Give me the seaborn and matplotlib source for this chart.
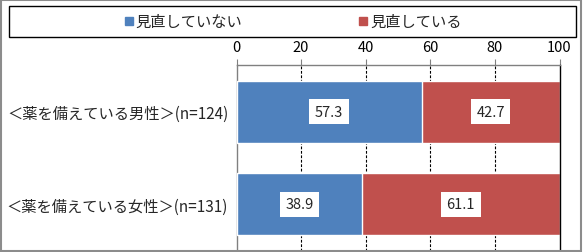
import matplotlib
matplotlib.use("Agg")
import matplotlib.pyplot as plt
import seaborn as sns
import pandas as pd
import numpy as np
from matplotlib.lines import Line2D
from matplotlib.patches import Rectangle

categories = ["＜薬を備えている男性＞(n=124)", "＜薬を備えている女性＞(n=131)"]
not_reviewed = [57.3, 38.9]
reviewed = [42.7, 61.1]
series_names = ["見直していない", "見直している"]
xticks = [0, 20, 40, 60, 80, 100]

BLUE = "#4F81BD"
RED = "#C0504D"

sns.set_theme(style="white")
plt.rcParams["font.family"] = ["Noto Sans CJK JP", "DejaVu Sans"]

df = pd.DataFrame({"cat": categories, "a": not_reviewed, "b": reviewed})
df["total"] = df["a"] + df["b"]

W, H = 584, 253
fig = plt.figure(figsize=(W / 100, H / 100), dpi=100)
ax = fig.add_axes([236.5 / W, 1 - 251.7 / H, (559.5 - 236.5) / W, (251.7 - 66.3) / H])

sns.barplot(data=df, x="total", y="cat", color=RED, saturation=1, width=0.67, ax=ax, zorder=2)
sns.barplot(data=df, x="a", y="cat", color=BLUE, saturation=1, width=0.67, ax=ax, zorder=3)

ax.set_xlim(0, 100)
ax.set_ylim(1.5, -0.5)
ax.set_xlabel("")
ax.set_ylabel("")
ax.xaxis.tick_top()
ax.set_xticks(xticks)
ax.set_xticklabels([str(t) for t in xticks], fontsize=10.5)
ax.tick_params(axis="x", which="major", direction="out", length=4, width=0.8,
               color="#808080", pad=4, colors="black")
ax.tick_params(axis="x", colors="black", color="#808080")
ax.set_yticks([0, 1])
ax.set_yticklabels(categories, fontsize=11)
ax.tick_params(axis="y", which="major", length=0, pad=6)
ax.set_yticks([-0.5, 0.5, 1.5], minor=True)
ax.tick_params(axis="y", which="minor", direction="out", length=4, width=0.8, color="#808080")

for x in xticks[1:-1]:
    ax.axvline(x, color="black", lw=0.8, ls=(0, (2.5, 1.5)), zorder=1)

for s in ["top", "left", "bottom"]:
    ax.spines[s].set_color("#808080")
    ax.spines[s].set_linewidth(1)
ax.spines["right"].set_color("black")
ax.spines["right"].set_linewidth(1)

for i in range(len(categories)):
    a = not_reviewed[i]
    b = reviewed[i]
    for xc, v in [(a / 2, a), (a + b / 2, b)]:
        ax.text(xc, i, f"{v:.1f}", ha="center", va="center", fontsize=10.5, zorder=5,
                bbox=dict(boxstyle="square,pad=0.38", fc="white", ec="none"))

# legend frame
fig.patches.append(Rectangle((9 / W, 1 - 38 / H), (576 - 9) / W, (38 - 7) / H,
                             transform=fig.transFigure, fill=False, ec="black", lw=1))
handles = [Line2D([], [], marker="s", ls="none", color=BLUE, markersize=6),
           Line2D([], [], marker="s", ls="none", color=RED, markersize=6)]
fig.legend(handles, series_names, loc="center", bbox_to_anchor=(293 / W, 1 - 22.5 / H),
           ncol=2, frameon=False, fontsize=11, handlelength=0.6, handletextpad=0.15,
           columnspacing=7.6, borderpad=0)

# outer frame
fig.patches.append(Rectangle((1 / W, 1 / H), (581 - 1) / W, (252 - 1) / H,
                             transform=fig.transFigure, fill=False, ec="#8c8c8c", lw=1.5))

fig.savefig("out.png", dpi=100)
